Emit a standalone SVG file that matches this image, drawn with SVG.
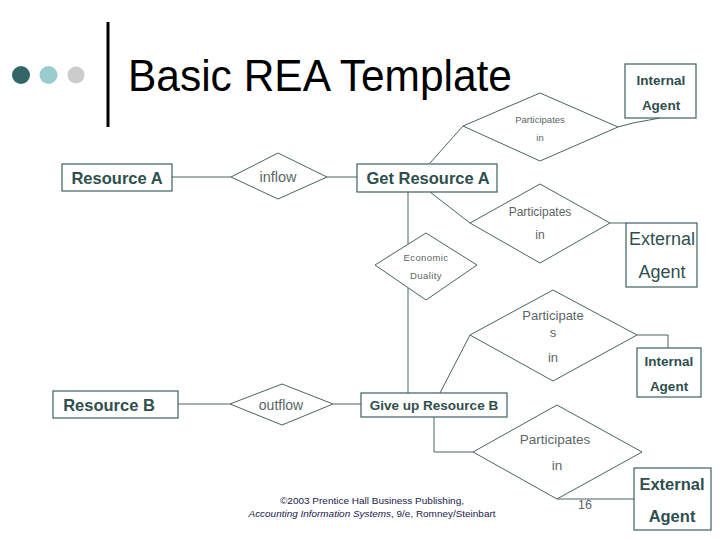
<svg xmlns="http://www.w3.org/2000/svg" width="720" height="540" viewBox="0 0 720 540">
<style>
  .box { fill: #ffffff; stroke: #3f5f5f; stroke-width: 1.2; }
  .dia { fill: #ffffff; stroke: #4a6464; stroke-width: 1; }
  .con { fill: none; stroke: #4a6464; stroke-width: 1; }
  .bt { font-family: "Liberation Sans", Arial, sans-serif; fill: #2f4f4f; text-anchor: middle; dominant-baseline: central; }
  .dt { font-family: "Liberation Sans", Arial, sans-serif; fill: #5a6666; text-anchor: middle; dominant-baseline: central; }
  .b { font-weight: bold; }
</style>
<rect width="720" height="540" fill="#ffffff"/>
<g id="header">
  <circle cx="21" cy="75" r="9" fill="#336666"/>
  <circle cx="48.5" cy="75" r="9" fill="#99cccc"/>
  <circle cx="76" cy="75" r="8.5" fill="#cccccc"/>
  <rect x="106.5" y="22" width="3" height="105" fill="#000000"/>
  <text x="128" y="91" font-family="Liberation Sans, Arial, sans-serif" font-size="45" fill="#000000" textLength="384" lengthAdjust="spacingAndGlyphs">Basic REA Template</text>
</g>
<g id="connectors">
  <line class="con" x1="172" y1="177" x2="231" y2="177"/>
  <line class="con" x1="327" y1="177" x2="357" y2="177"/>
  <line class="con" x1="430" y1="163" x2="463" y2="126"/>
  <polyline class="con" points="618,127 633,123 660,118"/>
  <line class="con" x1="430" y1="192" x2="470" y2="223"/>
  <line class="con" x1="610" y1="223" x2="626" y2="223"/>
  <line class="con" x1="408" y1="192" x2="408" y2="244"/>
  <line class="con" x1="408" y1="288" x2="408" y2="393"/>
  <line class="con" x1="470" y1="335" x2="440" y2="393"/>
  <polyline class="con" points="637,335 668,335 668,348"/>
  <line class="con" x1="178" y1="404" x2="230" y2="404"/>
  <line class="con" x1="333" y1="404" x2="361" y2="404"/>
  <polyline class="con" points="434,417 434,452 473,452"/>
  <line class="con" x1="557" y1="499" x2="634" y2="499"/>
</g>
<g id="internal-agent-1">
  <rect class="box" x="625" y="64" width="71" height="54"/>
  <text class="bt b" x="661" y="80" font-size="13.5">Internal</text>
  <text class="bt b" x="661" y="105" font-size="13.5">Agent</text>
</g>
<g id="participates-1">
  <polygon class="dia" points="463,126 540,93 618,127 540,161"/>
  <text class="dt" x="540" y="119" font-size="9.5">Participates</text>
  <text class="dt" x="540" y="137" font-size="9.5">in</text>
</g>
<g id="resource-a">
  <rect class="box" x="62" y="164" width="110" height="27"/>
  <text class="bt b" x="117" y="178" font-size="16.5">Resource A</text>
</g>
<g id="inflow">
  <polygon class="dia" points="231,177 278,153 327,177 278,199"/>
  <text class="dt" x="278" y="177" font-size="14.5">inflow</text>
</g>
<g id="get-resource-a">
  <rect class="box" x="357" y="164" width="140" height="28"/>
  <text class="bt b" x="428" y="178" font-size="16.5">Get Resource A</text>
</g>
<g id="participates-2">
  <polygon class="dia" points="470,223 540,184 610,223 540,263"/>
  <text class="dt" x="540" y="212" font-size="12">Participates</text>
  <text class="dt" x="540" y="235" font-size="12">in</text>
</g>
<g id="external-agent-1">
  <rect class="box" x="626" y="223" width="71" height="64"/>
  <text class="bt" x="662" y="239" font-size="18">External</text>
  <text class="bt" x="662" y="272" font-size="18">Agent</text>
</g>
<g id="economic-duality">
  <polygon class="dia" points="375,265 426,233 477,265 426,300"/>
  <text class="dt" x="426" y="257" font-size="9.5" letter-spacing="0.4">Economic</text>
  <text class="dt" x="426" y="275" font-size="9.5" letter-spacing="0.4">Duality</text>
</g>
<g id="participates-3">
  <polygon class="dia" points="470,335 553,290 637,335 553,381"/>
  <text class="dt" x="553" y="315" font-size="13">Participate</text>
  <text class="dt" x="553" y="332" font-size="13">s</text>
  <text class="dt" x="553" y="357" font-size="13">in</text>
</g>
<g id="internal-agent-2">
  <rect class="box" x="637" y="348" width="64" height="49"/>
  <text class="bt b" x="669" y="361" font-size="13.5">Internal</text>
  <text class="bt b" x="669" y="386" font-size="13.5">Agent</text>
</g>
<g id="resource-b">
  <rect class="box" x="53" y="391" width="125" height="27"/>
  <text class="bt b" x="109" y="405" font-size="16.5">Resource B</text>
</g>
<g id="outflow">
  <polygon class="dia" points="230,404 282,384 333,404 282,425"/>
  <text class="dt" x="281" y="405" font-size="14">outflow</text>
</g>
<g id="give-up-resource-b">
  <rect class="box" x="361" y="393" width="146" height="24"/>
  <text class="bt b" x="434" y="405" font-size="13.5">Give up Resource B</text>
</g>
<g id="participates-4">
  <polygon class="dia" points="473,452 557,405 642,452 557,499"/>
  <text class="dt" x="555" y="439" font-size="13.5">Participates</text>
  <text class="dt" x="557" y="465" font-size="13.5">in</text>
</g>
<g id="external-agent-2">
  <rect class="box" x="634" y="468" width="77" height="62"/>
  <text class="bt b" x="672" y="484" font-size="16.5">External</text>
  <text class="bt b" x="672" y="516" font-size="16.5">Agent</text>
</g>
<g id="footer">
  <text class="dt" x="585" y="505" font-size="12.5">16</text>
  <text x="372" y="504" font-family="Liberation Sans, Arial, sans-serif" font-size="9.5" fill="#1a1a4a" text-anchor="middle" textLength="184" lengthAdjust="spacingAndGlyphs">©2003 Prentice Hall Business Publishing,</text>
  <text x="372" y="517" font-family="Liberation Sans, Arial, sans-serif" font-size="9.5" fill="#1a1a4a" text-anchor="middle" textLength="247" lengthAdjust="spacingAndGlyphs"><tspan font-style="italic">Accounting Information Systems</tspan>, 9/e, Romney/Steinbart</text>
</g>
</svg>
